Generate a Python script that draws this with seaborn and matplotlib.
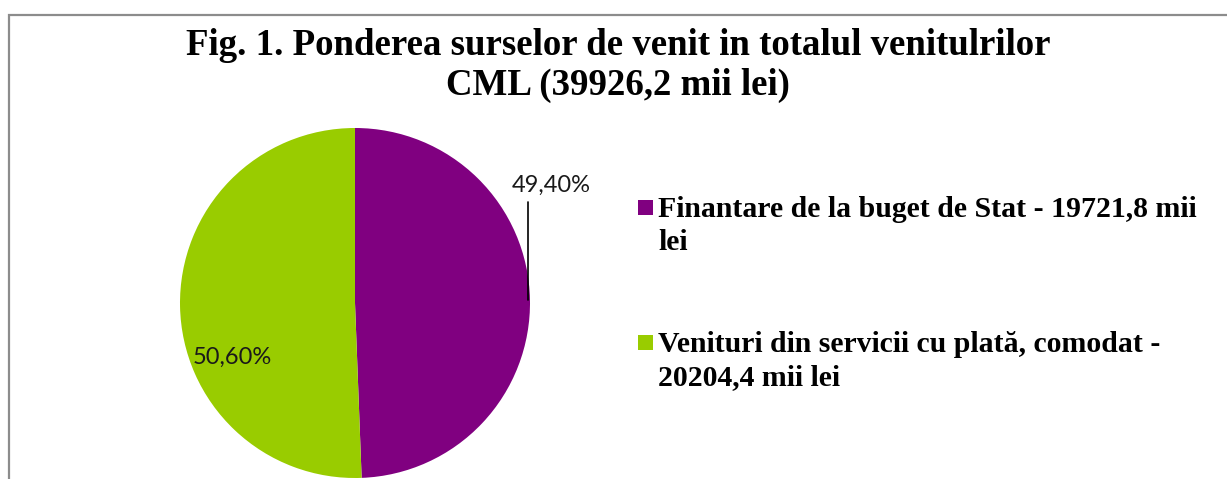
import numpy as np
import matplotlib
matplotlib.use("Agg")
import matplotlib.pyplot as plt
from matplotlib.patches import Rectangle
import seaborn as sns

# chart data
sources = ["Finantare de la buget de Stat - 19721,8 mii\nlei",
           "Venituri din servicii cu plată, comodat -\n20204,4 mii lei"]
amounts = [19721.8, 20204.4]
pct_labels = ["49,40%", "50,60%"]
title_lines = ["Fig. 1. Ponderea surselor de venit in totalul venitulrilor",
               "CML (39926,2 mii lei)"]

sns.set_theme(style="white")
colors = sns.color_palette(["#800080", "#99CC00"])
serif = ["Liberation Serif", "DejaVu Serif"]

W, H = 1227, 479
fig = plt.figure(figsize=(W / 100, H / 100), dpi=100)
fig.patch.set_facecolor("white")

# outer chart frame (cut at bottom / right like the original)
fig.patches.append(Rectangle((9 / W, -0.2), 1.2, (H - 14.5) / H + 0.2,
                             transform=fig.transFigure, fill=False,
                             edgecolor="#8c8c8c", linewidth=1.6, zorder=0))

for line, base in zip(title_lines, [55, 95]):
    fig.text(618 / W, 1 - base / H, line, ha="center", va="baseline",
             fontsize=26.6, fontweight="bold", family=serif, color="black")

# pie
cx, cy, r = 355, 303, 175
ax = fig.add_axes([(cx - r) / W, (H - cy - r) / H, 2 * r / W, 2 * r / H])
wedges, _ = ax.pie(amounts, colors=colors, startangle=90, counterclock=False,
                   radius=1.0, wedgeprops=dict(linewidth=0))
ax.set_xlim(-1, 1)
ax.set_ylim(-1, 1)
ax.set_aspect("equal")
ax.axis("off")

# label for first slice with leader line
w0 = wedges[0]
mid = np.deg2rad((w0.theta1 + w0.theta2) / 2)
x0, y0 = np.cos(mid), np.sin(mid)
ax.plot([x0 - 0.01, x0 - 0.01], [y0, 0.575], color="black", lw=1.2,
        clip_on=False)
ax.text(1.12, 0.675, pct_labels[0], ha="center", va="center", fontsize=17,
        family=["Lato", "DejaVu Sans"], color="#1a1a1a", clip_on=False)
ax.text(-0.70, -0.31, pct_labels[1], ha="center", va="center", fontsize=17,
        family=["Lato", "DejaVu Sans"], color="#1a1a1a")

# legend drawn by hand so the key square aligns with the first text line
leg_base = [216.7, 352]
for lab, col, base in zip(sources, colors, leg_base):
    fig.patches.append(Rectangle((638 / W, 1 - (base - 2) / H), 15 / W, 15 / H,
                                 transform=fig.transFigure, facecolor=col,
                                 edgecolor="none"))
    for i, line in enumerate(lab.split("\n")):
        fig.text(658 / W, 1 - (base + i * 33) / H, line, ha="left",
                 va="baseline", fontsize=21.4, fontweight="bold",
                 family=serif, color="black")

fig.savefig("out.png", dpi=100, facecolor="white")
